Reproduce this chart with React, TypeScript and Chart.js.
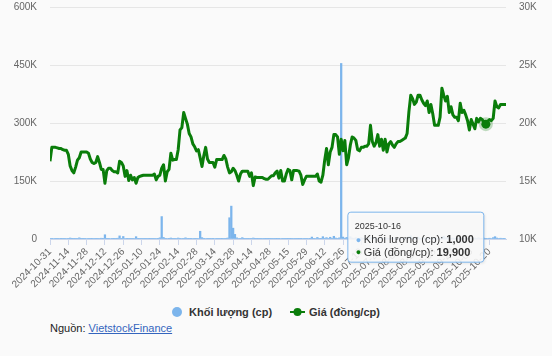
import React, { useEffect, useRef } from 'react';
import { Chart, registerables } from 'chart.js';

Chart.register(...registerables);

// ---------- data ----------
const START_DATE = '2024-10-31';
const HOLIDAYS = [
  '2025-01-01', '2025-01-27', '2025-01-28', '2025-01-29', '2025-01-30', '2025-01-31',
  '2025-04-07', '2025-04-30', '2025-05-01', '2025-05-02', '2025-09-01', '2025-09-02',
];

// Giá (đồng/cp)
const PRICE = [
  16700, 17900, 17900, 17900, 17850, 17800, 17800, 17700, 17650, 17650,
  17300, 16300, 15900, 15700, 16200, 16800, 17000, 17500, 17500, 17500,
  17500, 17400, 16900, 16600, 16500, 16600, 17100, 16600, 16000, 16000,
  14800, 15900, 16100, 16100, 15900, 15800, 15800, 15700, 16700, 16600,
  16300, 15400, 15900, 15050, 15500, 15100, 15300, 14800, 15300, 15400,
  15450, 15500, 15500, 15500, 15500, 15500, 15500, 15600, 15100, 15400,
  15500, 16100, 16400, 15000, 15800, 16000, 17400, 16800, 16850, 16850,
  17700, 19400, 19600, 20900, 20400, 19900, 19100, 18800, 18200, 17950,
  17600, 17700, 17000, 16250, 17200, 17900, 16900, 16600, 16600, 16600,
  16200, 16850, 16850, 16850, 16850, 17200, 16900, 16200, 15700, 15800,
  16100, 15900, 15500, 15000, 15600, 15850, 15850, 15850, 15850, 15400,
  15700, 14600, 15350, 15300, 15300, 15300, 15300, 15200, 15150, 15150,
  15300, 15450, 15450, 15700, 15850, 15250, 15900, 15000, 15000, 15600,
  16000, 15900, 15100, 15900, 15900, 15900, 15850, 15500, 14700, 15100,
  15400, 15400, 15400, 15400, 15400, 15400, 15600, 15000, 14900, 15500,
  16800, 17800, 16400, 17500, 17900, 19000, 19000, 18800, 17300, 18600,
  17600, 18500, 16400, 17000, 18100, 18800, 18700, 18500, 17700, 17600,
  17900, 17900, 18000, 18000, 18200, 19800, 18400, 18000, 18300, 19000,
  18000, 18600, 17650, 18600, 17500, 18200, 18400, 18100, 17900, 18200,
  18400, 18400, 18500, 18600, 18700, 19100, 21000, 22400, 22100, 21600,
  21800, 22400, 22400, 22000, 21700, 21500, 21900, 20900, 21600, 20800,
  19800, 19800, 19800, 20500, 23000, 22400, 21900, 22300, 20900, 21400,
  20700, 20500, 20500, 20200, 21700, 20900, 21100, 20700, 20200, 19400,
  20300, 19900, 19500, 20400, 20100, 20400, 20300, 20000, 19900, 20150,
  20300, 20200, 20400, 21900, 21400, 21300, 21600, 21600, 21600, 21600,
];

// Khối lượng (cp)
const VOLUME = [
  2000, 500, 1200, 800, 300, 1500, 600, 900, 400, 1100,
  700, 2500, 300, 1800, 400, 900, 3000, 500, 200, 600,
  1200, 400, 800, 300, 1500, 500, 700, 1000, 2000, 600,
  11000, 800, 400, 1300, 600, 500, 900, 2000, 8000, 700,
  6500, 1200, 400, 900, 500, 300, 1100, 6000, 400, 800,
  600, 300, 500, 1000, 400, 700, 200, 900, 1500, 600,
  3000, 58000, 4000, 800, 1200, 500, 2500, 700, 400, 1000,
  2500, 900, 1400, 600, 3000, 1800, 700, 500, 1200, 400,
  900, 1500, 20000, 3500, 700, 1200, 500, 800, 1000, 400,
  1300, 600, 500, 900, 700, 1500, 400, 2500, 55000, 85000,
  28000, 12000, 3000, 1500, 800, 3500, 600, 1000, 400, 900,
  700, 2500, 500, 800, 300, 600, 1000, 400, 700, 500,
  600, 400, 900, 300, 500, 800, 1200, 400, 600, 300,
  500, 700, 300, 1000, 400, 600, 500, 800, 1500, 400,
  700, 1100, 600, 5000, 800, 1500, 4000, 900, 700, 6000,
  2000, 3500, 1000, 4500, 1500, 7000, 2500, 1000, 3000, 454000,
  5000, 2000, 4000, 1500, 6000, 2500, 1200, 3000, 800, 1500,
  3000, 1000, 2000, 600, 1500, 4000, 900, 2500, 1200, 700,
  1500, 3000, 800, 1200, 2000, 600, 1800, 1000, 2500, 700,
  1200, 800, 1600, 2200, 900, 3000, 6000, 8000, 4000, 2500,
  3500, 5000, 2000, 1500, 3000, 1000, 2500, 4000, 1800, 2200,
  3000, 1200, 1500, 2500, 5000, 7000, 3000, 2000, 4000, 1500,
  2500, 1200, 1800, 1000, 3500, 2000, 1500, 2500, 800, 3000,
  1500, 2000, 2500, 1200, 3000, 1800, 1000, 2200, 1000, 1500,
  2000, 1200, 3500, 6000, 2500, 1500, 2000, 1000, 1800, 1200,
];

const VOLUME_TICKS = [0, 150000, 300000, 450000, 600000];
const PRICE_TICKS = [10000, 15000, 20000, 25000, 30000];
const LABEL_EVERY = 10;
const HOVER_DATE = '2025-10-16';

const VOLUME_NAME = 'Khối lượng (cp)';
const PRICE_NAME = 'Giá (đồng/cp)';

// trading-day calendar (weekdays minus exchange holidays)
function tradingDays(start: string, n: number, holidays: string[]): string[] {
  const out: string[] = [];
  const [y, m, d] = start.split('-').map(Number);
  let t = Date.UTC(y, m - 1, d);
  while (out.length < n) {
    const dt = new Date(t);
    const iso = dt.toISOString().slice(0, 10);
    const wd = dt.getUTCDay();
    if (wd !== 0 && wd !== 6 && !holidays.includes(iso)) out.push(iso);
    t += 86400000;
  }
  return out;
}
const DATES = tradingDays(START_DATE, PRICE.length, HOLIDAYS);

// ---------- styles ----------
const FONT = '"Liberation Sans", Arial, Helvetica, sans-serif';
const BG = '#fafafa';
const VOL_COLOR = '#7cb5ec';
const PRICE_COLOR = '#0a7d0a';
const W = 552;
const CANVAS_H = 295;

const fmtK = (v: number) => (v === 0 ? '0' : `${v / 1000}K`);
const fmtNum = (v: number) => v.toLocaleString('en-US');

const zeroPad = (axis: any) => {
  axis.paddingTop = 0;
  axis.paddingBottom = 0;
  axis.paddingLeft = 0;
  axis.paddingRight = 0;
};

const hoverPlugin = {
  id: 'hcHover',
  afterDraw(chart: any) {
    const idx = DATES.indexOf(HOVER_DATE);
    if (idx < 0) return;
    const pt = chart.getDatasetMeta(1).data[idx];
    const ctx: CanvasRenderingContext2D = chart.ctx;
    ctx.save();
    // halo + marker
    ctx.beginPath();
    ctx.arc(pt.x, pt.y, 7, 0, Math.PI * 2);
    ctx.fillStyle = 'rgba(10,125,10,0.25)';
    ctx.fill();
    ctx.beginPath();
    ctx.arc(pt.x, pt.y, 4.5, 0, Math.PI * 2);
    ctx.fillStyle = PRICE_COLOR;
    ctx.fill();

    // tooltip box
    const lines = [
      { color: VOL_COLOR, label: `${VOLUME_NAME}: `, value: fmtNum(VOLUME[idx]) },
      { color: PRICE_COLOR, label: `${PRICE_NAME}: `, value: fmtNum(PRICE[idx]) },
    ];
    const reg = `11px ${FONT}`;
    const bold = `bold 11px ${FONT}`;
    let maxW = 0;
    const widths = lines.map((l) => {
      ctx.font = reg;
      const a = ctx.measureText(l.label).width;
      ctx.font = bold;
      const b = ctx.measureText(l.value).width;
      maxW = Math.max(maxW, a + b);
      return a;
    });
    const left = pt.x - 138;
    const top = pt.y + 88;
    const bw = 16 + maxW + 10;
    const bh = 50;
    const r = 3;
    const path = () => {
      ctx.beginPath();
      ctx.moveTo(left + r, top);
      ctx.lineTo(left + bw - r, top);
      ctx.arcTo(left + bw, top, left + bw, top + r, r);
      ctx.lineTo(left + bw, top + bh - r);
      ctx.arcTo(left + bw, top + bh, left + bw - r, top + bh, r);
      ctx.lineTo(left + r, top + bh);
      ctx.arcTo(left, top + bh, left, top + bh - r, r);
      ctx.lineTo(left, top + r);
      ctx.arcTo(left, top, left + r, top, r);
      ctx.closePath();
    };
    ctx.save();
    ctx.shadowColor = 'rgba(0,0,0,0.12)';
    ctx.shadowOffsetX = 1;
    ctx.shadowOffsetY = 1;
    ctx.shadowBlur = 3;
    path();
    ctx.fillStyle = 'rgba(250,250,250,0.88)';
    ctx.fill();
    ctx.restore();
    path();
    ctx.lineWidth = 1;
    ctx.strokeStyle = VOL_COLOR;
    ctx.stroke();

    ctx.textBaseline = 'middle';
    ctx.textAlign = 'left';
    ctx.fillStyle = '#333';
    ctx.font = `9px ${FONT}`;
    ctx.fillText(HOVER_DATE, left + 7, top + 14.5);
    lines.forEach((l, i) => {
      const cy = top + 28 + i * 12.5;
      ctx.fillStyle = l.color;
      ctx.font = `9px ${FONT}`;
      ctx.fillText('\u25CF', left + 8, cy);
      ctx.fillStyle = '#333';
      ctx.font = reg;
      ctx.fillText(l.label, left + 16, cy);
      ctx.font = bold;
      ctx.fillText(l.value, left + 16 + widths[i], cy);
    });
    ctx.restore();
  },
};

export default function App() {
  const ref = useRef<HTMLCanvasElement | null>(null);

  useEffect(() => {
    const prevMargin = document.body.style.margin;
    document.body.style.margin = '0';
    const canvas = ref.current;
    if (!canvas) return;
    const chart = new Chart(canvas, {
      type: 'bar',
      data: {
        datasets: [
          {
            type: 'bar',
            label: VOLUME_NAME,
            data: VOLUME.map((v, i) => ({ x: i, y: v })),
            backgroundColor: VOL_COLOR,
            borderWidth: 0,
            barThickness: 1.6,
            yAxisID: 'yVol',
            order: 1,
          } as any,
          {
            type: 'line',
            label: PRICE_NAME,
            data: PRICE.map((v, i) => ({ x: i, y: v })),
            borderColor: PRICE_COLOR,
            backgroundColor: PRICE_COLOR,
            borderWidth: 3,
            pointRadius: 0,
            pointHoverRadius: 0,
            tension: 0,
            fill: false,
            borderJoinStyle: 'round',
            yAxisID: 'yPrice',
            order: 0,
          } as any,
        ],
      },
      options: {
        responsive: false,
        animation: false,
        devicePixelRatio: 1,
        events: [],
        layout: { padding: { top: 7, left: 0, right: 0, bottom: 0 } },
        plugins: {
          legend: { display: false },
          tooltip: { enabled: false },
        },
        scales: {
          x: {
            type: 'linear',
            min: 0,
            max: DATES.length - 1,
            offset: false,
            grid: {
              offset: false,
              drawOnChartArea: false,
              drawTicks: true,
              tickLength: 6,
              color: '#ccd6eb',
            },
            border: { display: true, color: '#ccd6eb', width: 1 },
            ticks: {
              autoSkip: false,
              minRotation: 45,
              maxRotation: 45,
              padding: 1,
              color: '#666',
              font: { family: FONT, size: 10 },
              callback: (v: any) => DATES[Number(v)] ?? '',
            },
            afterBuildTicks: (axis: any) => {
              axis.ticks = DATES.map((_, i) => i)
                .filter((i) => i % LABEL_EVERY === 0)
                .map((v) => ({ value: v }));
            },
            afterFit: (axis: any) => {
              axis.height = CANVAS_H - 239;
              zeroPad(axis);
            },
          } as any,
          yVol: {
            type: 'linear',
            position: 'left',
            min: VOLUME_TICKS[0],
            max: VOLUME_TICKS[VOLUME_TICKS.length - 1],
            grid: { color: '#e6e6e6', drawTicks: false, lineWidth: 1 },
            border: { display: false },
            ticks: {
              padding: 13,
              color: '#666',
              font: { family: FONT, size: 10 },
              callback: (v: any) => fmtK(Number(v)),
            },
            afterBuildTicks: (axis: any) => {
              axis.ticks = VOLUME_TICKS.map((v) => ({ value: v }));
            },
            afterFit: (axis: any) => {
              axis.width = 50;
              zeroPad(axis);
            },
          } as any,
          yPrice: {
            type: 'linear',
            position: 'right',
            min: PRICE_TICKS[0],
            max: PRICE_TICKS[PRICE_TICKS.length - 1],
            grid: { drawOnChartArea: false, drawTicks: false },
            border: { display: false },
            ticks: {
              padding: 13,
              color: '#666',
              font: { family: FONT, size: 10 },
              callback: (v: any) => fmtK(Number(v)),
            },
            afterBuildTicks: (axis: any) => {
              axis.ticks = PRICE_TICKS.map((v) => ({ value: v }));
            },
            afterFit: (axis: any) => {
              axis.width = 46;
              zeroPad(axis);
            },
          } as any,
        },
      },
      plugins: [hoverPlugin],
    });
    return () => {
      chart.destroy();
      document.body.style.margin = prevMargin;
    };
  }, []);

  return (
    <div
      style={{
        position: 'absolute',
        left: 0,
        top: 0,
        width: W,
        height: 356,
        background: BG,
        fontFamily: FONT,
        overflow: 'hidden',
      }}
    >
      <canvas
        ref={ref}
        width={W}
        height={CANVAS_H}
        style={{ position: 'absolute', left: 0, top: 0, width: W, height: CANVAS_H }}
      />
      <div
        style={{
          position: 'absolute',
          left: 0,
          top: 305,
          width: W,
          height: 14,
          display: 'flex',
          justifyContent: 'center',
          alignItems: 'center',
          fontSize: 11,
          fontWeight: 'bold',
          color: '#333',
        }}
      >
        <span style={{ display: 'flex', alignItems: 'center' }}>
          <span
            style={{
              width: 10,
              height: 10,
              borderRadius: '50%',
              background: VOL_COLOR,
              display: 'inline-block',
              marginRight: 7,
            }}
          />
          <span>{VOLUME_NAME}</span>
        </span>
        <span style={{ display: 'flex', alignItems: 'center', marginLeft: 18 }}>
          <svg width={15} height={10} style={{ marginRight: 4 }}>
            <line x1={0} y1={5} x2={15} y2={5} stroke={PRICE_COLOR} strokeWidth={2} />
            <circle cx={7.5} cy={5} r={4} fill={PRICE_COLOR} />
          </svg>
          <span>{PRICE_NAME}</span>
        </span>
      </div>
      <div
        style={{
          position: 'absolute',
          left: 50,
          top: 321,
          fontSize: 11,
          lineHeight: '14px',
          color: '#222',
        }}
      >
        Nguồn:{' '}
        <a href="#" style={{ color: '#3465be', textDecoration: 'underline' }}>
          VietstockFinance
        </a>
      </div>
    </div>
  );
}
